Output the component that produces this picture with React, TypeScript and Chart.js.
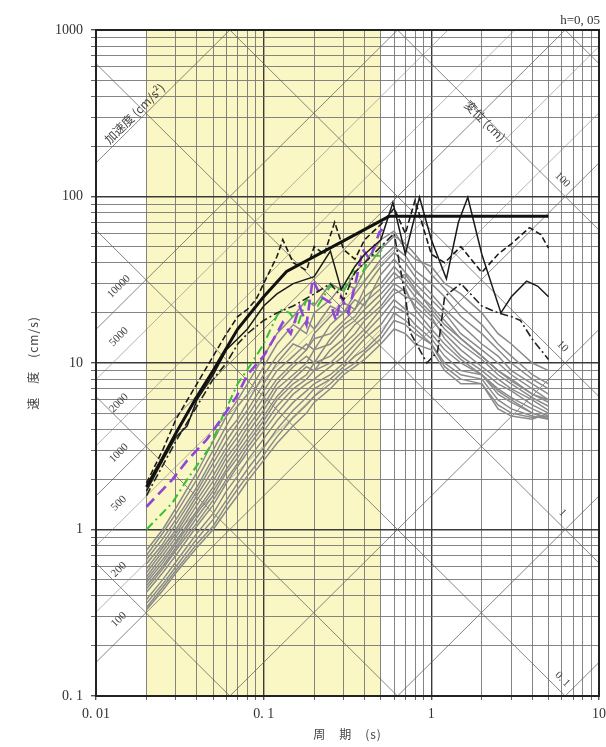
import React, { useEffect, useRef } from 'react';
import { Chart, registerables } from 'chart.js';
Chart.register(...registerables);

// ---- axis ticks ----
const xLabelValues = [0.01, 0.1, 1, 10];
const xLabelTexts = ['0. 01', '0. 1', '1', '10'];
const yLabelValues = [0.1, 1, 10, 100, 1000];
const yLabelTexts = ['0. 1', '1', '10', '100', '1000'];
const xDecades = [0.01, 0.1, 1];
const yDecades = [0.1, 1, 10, 100];
const minorSteps = [1, 2, 3, 4, 5, 6, 7, 8, 9];

// ---- tripartite diagonals ----
const accelLines = [0.01, 0.1, 1, 10, 100, 200, 500, 1000, 2000, 5000, 10000, 100000, 1000000];
const accelLabelValues = [100, 200, 500, 1000, 2000, 5000, 10000];
const accelLabelTexts = ['100', '200', '500', '1000', '2000', '5000', '10000'];
const dispLines = [0.0001, 0.001, 0.01, 0.1, 1, 10, 100, 1000];
const dispLabelValues = [0.1, 1, 10, 100];
const dispLabelTexts = ['0. 1', '1', '10', '100'];

// ---- shaded period band ----
const bandFrom = 0.02;
const bandTo = 0.5;

// ---- grey spectra (common periods) ----
const periods = [0.02, 0.025, 0.03, 0.04, 0.05, 0.06, 0.07, 0.08, 0.1, 0.12, 0.15, 0.18, 0.2, 0.25, 0.3, 0.35, 0.4, 0.5, 0.6, 0.7, 0.8, 1.0, 1.2, 1.5, 2.0, 2.5, 3.0, 4.0, 5.0];
const grey01 = [0.75, 1.0, 1.35, 2.2, 3.4, 4.8, 6.0, 7.5, 11, 15, 19, 24, 22, 30, 27, 35, 40, 55, 62, 48, 42, 38, 30, 26, 20, 15, 13, 10, 9];
const grey02 = [0.7, 0.95, 1.25, 2.0, 3.0, 4.2, 5.5, 6.5, 9.5, 13, 17, 15, 20, 24, 30, 28, 36, 48, 58, 52, 45, 34, 28, 22, 17, 13, 11, 8.5, 7.5];
const grey03 = [0.66, 0.88, 1.15, 1.8, 2.7, 3.8, 4.6, 5.8, 8.5, 11, 14, 18, 16, 22, 20, 26, 31, 42, 50, 44, 36, 30, 25, 19, 15, 12, 10, 8, 7];
const grey04 = [0.62, 0.82, 1.08, 1.7, 2.5, 3.4, 4.3, 5.2, 7.5, 10, 13, 12, 15, 19, 23, 21, 28, 38, 46, 40, 33, 26, 21, 17, 13, 11, 9, 7.5, 6.5];
const grey05 = [0.58, 0.78, 1.0, 1.6, 2.3, 3.1, 3.9, 4.8, 6.8, 9, 11, 13, 12, 17, 20, 24, 22, 34, 42, 35, 30, 24, 20, 15, 12, 10, 8.5, 7, 6];
const grey06 = [0.55, 0.74, 0.95, 1.5, 2.1, 2.9, 3.6, 4.4, 6.2, 8, 10, 12, 14, 15, 18, 21, 25, 30, 38, 32, 27, 22, 18, 14, 11, 9, 8, 6.5, 5.8];
const grey07 = [0.52, 0.7, 0.9, 1.4, 1.95, 2.7, 3.3, 4.1, 5.6, 7.5, 9.5, 11, 10, 14, 17, 19, 23, 28, 35, 30, 25, 20, 16, 13, 10.5, 8.5, 7.5, 6.2, 5.5];
const grey08 = [0.5, 0.66, 0.85, 1.3, 1.8, 2.5, 3.1, 3.8, 5.2, 7, 8.5, 10, 12, 13, 16, 18, 21, 26, 32, 34, 28, 21, 17, 14, 11, 9, 7.8, 6.5, 6];
const grey09 = [0.48, 0.63, 0.82, 1.25, 1.7, 2.3, 2.9, 3.5, 4.8, 6.3, 8, 9.5, 9, 12, 14, 17, 19, 24, 30, 27, 22, 18, 15, 12, 9.5, 8, 7, 6, 5.2];
const grey10 = [0.46, 0.6, 0.78, 1.18, 1.6, 2.2, 2.7, 3.3, 4.5, 6, 7.5, 8.5, 10, 11, 13, 15, 18, 22, 28, 25, 24, 19, 14, 11, 9, 7.5, 6.8, 5.6, 5];
const grey11 = [0.44, 0.58, 0.75, 1.1, 1.5, 2.0, 2.5, 3.1, 4.2, 5.5, 7, 8, 9, 10, 12, 14, 16, 21, 26, 28, 21, 16, 13, 10.5, 8.5, 7, 6.2, 5.3, 4.8];
const grey12 = [0.42, 0.55, 0.7, 1.05, 1.4, 1.9, 2.4, 2.9, 3.9, 5.0, 6.5, 7.5, 8, 9.5, 11, 13, 15, 19, 24, 21, 19, 15, 12, 10, 8.5, 6.8, 6, 5, 4.6];
const grey13 = [0.38, 0.5, 0.64, 0.95, 1.25, 1.7, 2.1, 2.6, 3.5, 4.5, 5.8, 6.8, 7.5, 8.5, 10, 12, 14, 17, 22, 20, 17, 14, 11, 9, 8.5, 6.5, 5.8, 5, 4.7];
const grey14 = [0.36, 0.47, 0.6, 0.88, 1.15, 1.5, 1.9, 2.3, 3.1, 4.0, 5.2, 6.2, 7, 8, 9.5, 11, 12, 15, 20, 18, 16, 13, 10, 8.5, 8, 6, 5.3, 4.8, 4.6];
const grey15 = [0.34, 0.45, 0.57, 0.82, 1.05, 1.4, 1.75, 2.1, 2.8, 3.6, 4.7, 5.6, 6.3, 7.5, 9, 10, 11.5, 14, 18, 17, 15, 13, 9.5, 8, 7.5, 5.6, 5, 4.7, 4.8];
const grey16 = [0.33, 0.43, 0.55, 0.78, 1.0, 1.3, 1.6, 1.95, 2.6, 3.3, 4.2, 5.0, 5.8, 7, 8.5, 9.5, 10.5, 13, 16, 15, 13, 12, 9, 7.5, 7.5, 5.3, 4.8, 4.6, 5.0];
const greySeries = [grey01, grey02, grey03, grey04, grey05, grey06, grey07, grey08, grey09, grey10, grey11, grey12, grey13, grey14, grey15, grey16];

// ---- design envelope (thick black) ----
const envT = [0.02, 0.025, 0.03, 0.04, 0.05, 0.07, 0.1, 0.137, 0.56, 5.0];
const envV = [1.8, 2.7, 3.8, 6.3, 9.0, 16, 25, 35.5, 76, 76];

// ---- black records ----
const blackAT = [0.02, 0.025, 0.03, 0.035, 0.04, 0.05, 0.06, 0.07, 0.08, 0.1, 0.12, 0.15, 0.2, 0.25, 0.29, 0.35, 0.4, 0.5, 0.59, 0.7, 0.85, 1.0, 1.23, 1.45, 1.65, 2.0, 2.6, 3.0, 3.7, 4.3, 5.0];
const blackAV = [1.7, 2.6, 3.6, 4.2, 6.0, 8.5, 12, 14, 16, 22, 26, 30, 33, 47, 27.6, 38, 45, 55, 92, 45, 99, 55, 32, 70, 99, 45, 20, 25, 31, 29, 25];
const blackBT = [0.02, 0.025, 0.03, 0.04, 0.05, 0.06, 0.07, 0.08, 0.09, 0.1, 0.12, 0.13, 0.15, 0.18, 0.2, 0.23, 0.265, 0.3, 0.35, 0.4, 0.5, 0.6, 0.7, 0.8, 1.0, 1.2, 1.5, 2.0, 2.5, 3.0, 3.85, 4.5, 5.0];
const blackBV = [1.9, 3.0, 4.6, 7.5, 11, 15, 19, 21, 24, 30, 43.6, 55, 40, 36, 50, 45, 70, 48, 42, 55, 68, 85, 60, 95, 45, 40, 50, 35, 45, 52, 65, 59, 49];
const blackCT = [0.02, 0.03, 0.04, 0.05, 0.06, 0.07, 0.08, 0.1, 0.12, 0.15, 0.2, 0.25, 0.3, 0.35, 0.4, 0.5, 0.6, 0.7, 0.75, 0.94, 1.09, 1.2, 1.5, 2.0, 2.5, 3.0, 3.4, 4.0, 5.0];
const blackCV = [1.6, 3.4, 5.5, 8.0, 10, 13, 15, 18, 20, 22, 26, 30, 24, 35, 40, 50, 60, 25, 15.2, 10, 11.7, 25, 30, 22, 20, 19, 18, 13.9, 10.5];

// ---- purple & green ----
const purpleT = [0.02, 0.0286, 0.035, 0.0458, 0.055, 0.069, 0.08, 0.1, 0.115, 0.13, 0.145, 0.164, 0.18, 0.196, 0.22, 0.25, 0.27, 0.29, 0.32, 0.36, 0.39, 0.43, 0.49, 0.52];
const purpleV = [1.37, 2.0, 2.6, 3.47, 4.5, 6.3, 8.5, 11, 14, 17.5, 15, 21.8, 17, 31.7, 25, 23, 18, 25, 20, 33, 48, 42, 61, 65];
const greenT = [0.02, 0.0286, 0.035, 0.048, 0.057, 0.07, 0.085, 0.1, 0.125, 0.143, 0.16, 0.18, 0.21, 0.25, 0.3, 0.34, 0.38, 0.43, 0.49, 0.52];
const greenV = [1.0, 1.45, 2.0, 3.15, 4.8, 7.5, 10, 13, 21, 20, 17, 24, 22, 29, 27, 36, 33, 44, 44, 52];

const isDecade = (v: number) => v > 0 && Math.abs(Math.log10(v) - Math.round(Math.log10(v))) < 1e-9;
const gridValues = (decades: number[], last: number) => {
  const out: number[] = [];
  decades.forEach((d) => minorSteps.forEach((k) => out.push(Number((k * d).toPrecision(6)))));
  out.push(last);
  return out;
};
const labelFor = (v: number, vals: number[], texts: string[]) => {
  const i = vals.findIndex((u) => Math.abs(Math.log10(u) - Math.log10(v)) < 1e-9);
  return i >= 0 ? texts[i] : '';
};
const pts = (xs: number[], ys: number[]) => xs.map((x, i) => ({ x, y: ys[i] }));

const SERIF = '"Liberation Serif", "DejaVu Serif", serif';
const CJK = '"Noto Sans CJK JP", sans-serif';

const backgroundPlugin = {
  id: 'band',
  beforeDraw(chart: any) {
    const { ctx, chartArea: a, scales } = chart;
    const x0 = scales.x.getPixelForValue(bandFrom);
    const x1 = scales.x.getPixelForValue(bandTo);
    ctx.save();
    ctx.fillStyle = '#fbf7c4';
    ctx.fillRect(x0, a.top, x1 - x0, a.bottom - a.top);
    ctx.restore();
  },
};

const diagonalPlugin = {
  id: 'diagonals',
  beforeDatasetsDraw(chart: any) {
    const { ctx, chartArea: a, scales } = chart;
    const { x, y } = scales;
    const tA = 0.01, tB = 10;
    const twoPi = 2 * Math.PI;
    ctx.save();
    ctx.beginPath();
    ctx.rect(a.left, a.top, a.right - a.left, a.bottom - a.top);
    ctx.clip();
    for (const acc of accelLines) {
      ctx.strokeStyle = isDecade(acc) ? 'rgba(95,95,95,0.75)' : 'rgba(120,120,120,0.55)';
      ctx.lineWidth = 1;
      ctx.beginPath();
      ctx.moveTo(x.getPixelForValue(tA), y.getPixelForValue((acc * tA) / twoPi));
      ctx.lineTo(x.getPixelForValue(tB), y.getPixelForValue((acc * tB) / twoPi));
      ctx.stroke();
    }
    for (const d of dispLines) {
      ctx.strokeStyle = 'rgba(95,95,95,0.75)';
      ctx.lineWidth = 1;
      ctx.beginPath();
      ctx.moveTo(x.getPixelForValue(tA), y.getPixelForValue((twoPi * d) / tA));
      ctx.lineTo(x.getPixelForValue(tB), y.getPixelForValue((twoPi * d) / tB));
      ctx.stroke();
    }
    ctx.restore();

    // labels
    ctx.save();
    ctx.fillStyle = '#444';
    ctx.textAlign = 'center';
    ctx.textBaseline = 'middle';
    ctx.font = `11px ${SERIF}`;
    const tAccLab = 0.0155;
    accelLabelValues.forEach((acc, i) => {
      const px = x.getPixelForValue(tAccLab);
      const py = y.getPixelForValue((acc * tAccLab) / twoPi);
      ctx.save();
      ctx.translate(px - 9, py - 11);
      ctx.rotate(-Math.PI / 4);
      ctx.fillText(accelLabelTexts[i], 0, 0);
      ctx.restore();
    });
    const tDispLab = 5.5;
    dispLabelValues.forEach((d, i) => {
      const px = x.getPixelForValue(tDispLab);
      const py = y.getPixelForValue((twoPi * d) / tDispLab);
      ctx.save();
      ctx.translate(px + 7, py - 7);
      ctx.rotate(Math.PI / 4);
      ctx.fillText(dispLabelTexts[i], 0, 0);
      ctx.restore();
    });
    // axis names along diagonals
    {
      const t = 0.0182;
      const px = x.getPixelForValue(t);
      const py = y.getPixelForValue((100000 * t) / twoPi);
      ctx.save();
      ctx.translate(px - 5, py - 6);
      ctx.rotate(-Math.PI / 4);
      ctx.font = `12px ${CJK}`;
      ctx.fillText('加速度 (cm/s²)', 0, 0);
      ctx.restore();
    }
    {
      const t = 2.15;
      const px = x.getPixelForValue(t);
      const py = y.getPixelForValue((twoPi * 100) / t);
      ctx.save();
      ctx.translate(px - 2, py + 2);
      ctx.rotate(Math.PI / 4);
      ctx.font = `12px ${CJK}`;
      ctx.fillText('変位 (cm)', 0, 0);
      ctx.restore();
    }
    ctx.restore();
  },
};

const framePlugin = {
  id: 'frame',
  afterDraw(chart: any) {
    const { ctx, chartArea: a } = chart;
    ctx.save();
    ctx.strokeStyle = '#222';
    ctx.lineWidth = 2;
    ctx.strokeRect(a.left, a.top, a.right - a.left, a.bottom - a.top);
    ctx.fillStyle = '#333';
    ctx.font = `13px ${SERIF}`;
    ctx.textAlign = 'right';
    ctx.textBaseline = 'middle';
    ctx.fillText('h=0, 05', a.right + 1, a.top - 9);
    // axis titles
    ctx.font = `12px ${CJK}`;
    ctx.textAlign = 'center';
    ctx.fillStyle = '#444';
    (ctx as any).letterSpacing = '1px';
    ctx.fillText('周　期　(s)', (a.left + a.right) / 2, a.bottom + 38);
    ctx.save();
    ctx.translate(33, (a.top + a.bottom) / 2);
    ctx.rotate(-Math.PI / 2);
    ctx.fillText('速　度　(cm/s)', 0, 0);
    ctx.restore();
    ctx.restore();
  },
};

const gridColor = (c: any) => (c.tick && isDecade(c.tick.value) ? '#3a3a3a' : '#767676');
const gridWidth = (c: any) => (c.tick && isDecade(c.tick.value) ? 1.4 : 0.9);

export default function App() {
  const ref = useRef<HTMLCanvasElement>(null);
  useEffect(() => {
    const datasets: any[] = [];
    datasets.push({ data: pts(envT, envV), borderColor: '#111', borderWidth: 3 });
    datasets.push({ data: pts(blackAT, blackAV), borderColor: '#1a1a1a', borderWidth: 1.5 });
    datasets.push({ data: pts(blackBT, blackBV), borderColor: '#1a1a1a', borderWidth: 1.6, borderDash: [6, 3] });
    datasets.push({ data: pts(blackCT, blackCV), borderColor: '#222', borderWidth: 1.6, borderDash: [8, 3, 2, 3] });
    datasets.push({ data: pts(purpleT, purpleV), borderColor: '#8f46d8', borderWidth: 2.6, borderDash: [11, 6] });
    datasets.push({ data: pts(greenT, greenV), borderColor: '#35c035', borderWidth: 2, borderDash: [9, 4, 2, 4] });
    greySeries.forEach((g) => datasets.push({ data: pts(periods, g), borderColor: '#8a8a8a', borderWidth: 1.5 }));
    datasets.forEach((d) => {
      d.pointRadius = 0;
      d.fill = false;
      d.tension = 0;
    });

    const chart = new Chart(ref.current as HTMLCanvasElement, {
      type: 'line',
      data: { datasets },
      options: {
        responsive: false,
        devicePixelRatio: 1,
        animation: false,
        layout: { padding: { top: 30, right: 7, left: 0, bottom: 0 } },
        plugins: { legend: { display: false }, tooltip: { enabled: false } },
        scales: {
          x: {
            type: 'logarithmic',
            min: 0.01,
            max: 10,
            afterBuildTicks: (s: any) => {
              s.ticks = gridValues(xDecades, 10).map((v) => ({ value: v }));
            },
            afterFit: (s: any) => {
              s.height = 51;
              s.paddingLeft = 0;
              s.paddingRight = 0;
            },
            ticks: {
              autoSkip: false,
              maxRotation: 0,
              minRotation: 0,
              padding: 6,
              color: '#333',
              font: { family: SERIF, size: 14 },
              callback: (v: any) => labelFor(Number(v), xLabelValues, xLabelTexts),
            },
            grid: { color: gridColor, lineWidth: gridWidth, tickLength: 4, tickColor: '#555' },
            border: { display: true, color: '#222', width: 2 },
          },
          y: {
            type: 'logarithmic',
            min: 0.1,
            max: 1000,
            afterBuildTicks: (s: any) => {
              s.ticks = gridValues(yDecades, 1000).map((v) => ({ value: v }));
            },
            afterFit: (s: any) => {
              s.width = 96;
              s.paddingTop = 0;
              s.paddingBottom = 0;
            },
            ticks: {
              autoSkip: false,
              padding: 8,
              color: '#333',
              font: { family: SERIF, size: 14 },
              callback: (v: any) => labelFor(Number(v), yLabelValues, yLabelTexts),
            },
            grid: { color: gridColor, lineWidth: gridWidth, tickLength: 5, tickColor: '#555' },
            border: { display: true, color: '#222', width: 2 },
          },
        },
      } as any,
      plugins: [backgroundPlugin, diagonalPlugin, framePlugin],
    });
    return () => chart.destroy();
  }, []);
  return (
    <div style={{ position: 'absolute', left: 0, top: 0, width: 606, height: 747, background: '#fff' }}>
      <canvas ref={ref} width={606} height={747} style={{ display: 'block', width: 606, height: 747 }} />
    </div>
  );
}
